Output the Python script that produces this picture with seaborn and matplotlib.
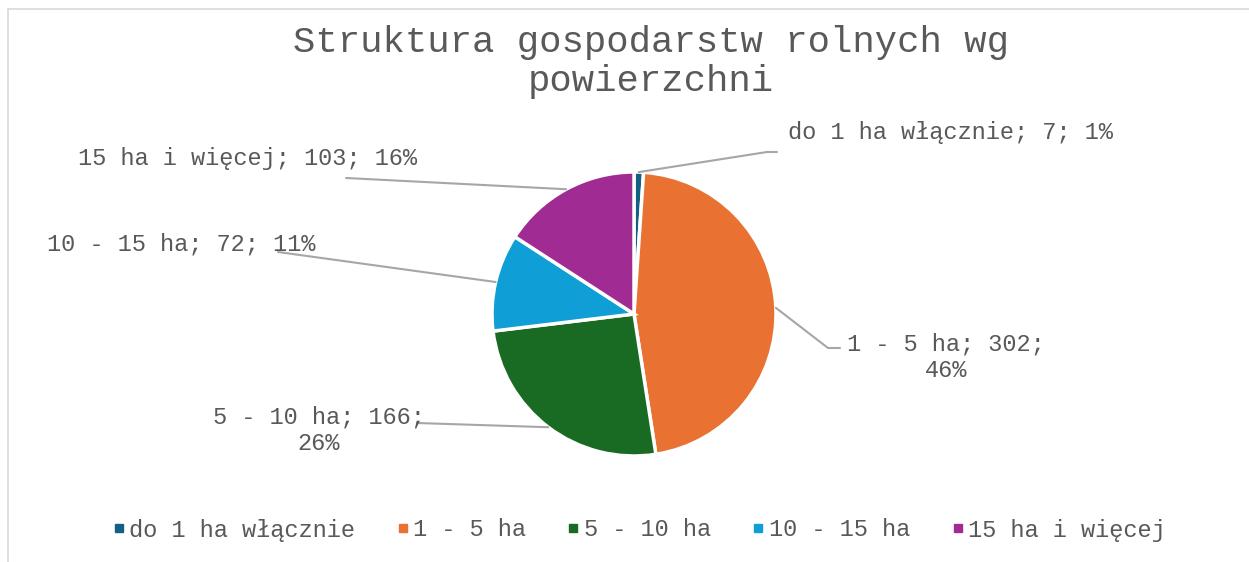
import numpy as np
import matplotlib
matplotlib.use("Agg")
import matplotlib.pyplot as plt
from matplotlib.lines import Line2D
import seaborn as sns

# data
categories = ["do 1 ha włącznie", "1 - 5 ha", "5 - 10 ha", "10 - 15 ha", "15 ha i więcej"]
farms = [7, 302, 166, 72, 103]
colors = ["#156082", "#E97132", "#196B24", "#0F9ED5", "#A02B93"]
title = "Struktura gospodarstw rolnych wg\npowierzchni"

sns.set_theme(style="white")
plt.rcParams["font.family"] = ["Liberation Mono", "DejaVu Sans Mono"]
txt_col = "#595959"

W, H = 1249, 562
fig = plt.figure(figsize=(W / 100, H / 100), dpi=100)

# pie centre / radius in pixels (layout)
cx, cy, r = 634, 314, 142
box = 200
ax = fig.add_axes([(cx - box) / W, (H - cy - box) / H, 2 * box / W, 2 * box / H])
wedges, _ = ax.pie(farms, colors=sns.color_palette(colors), startangle=90, counterclock=False,
                   wedgeprops=dict(edgecolor="white", linewidth=2.5))
lim = box / r
ax.set_xlim(-lim, lim)
ax.set_ylim(-lim, lim)
ax.axis("off")

def px(x, y):
    return x / W, 1 - y / H

# label layout: text anchor (pixels), alignment, line break, leader points
label_layout = [
    dict(pos=(788, 132), ha="left", wrap=False, pts=[(767, 152), (777, 152)]),
    dict(pos=(946, 357), ha="center", wrap=True, pts=[(828, 348), (840, 348)]),
    dict(pos=(319, 430), ha="center", wrap=True, pts=[(417, 423)]),
    dict(pos=(47, 244), ha="left", wrap=False, pts=[(278, 252)]),
    dict(pos=(78, 158), ha="left", wrap=False, pts=[(346, 178)]),
]

total = sum(farms)
to_fig = fig.transFigure.inverted()
for w, cat, val, lay in zip(wedges, categories, farms, label_layout):
    pct = round(val / total * 100)
    sep = "\n" if lay["wrap"] else " "
    lab = f"{cat}; {val};{sep}{pct}%"
    x, y = px(*lay["pos"])
    fig.text(x, y, lab, ha=lay["ha"], va="center", fontsize=17, color=txt_col,
             multialignment="center", linespacing=1.2)
    ang = np.deg2rad((w.theta1 + w.theta2) / 2)
    start = to_fig.transform(ax.transData.transform((np.cos(ang), np.sin(ang))))
    xs = [start[0]] + [px(*p)[0] for p in lay["pts"]]
    ys = [start[1]] + [px(*p)[1] for p in lay["pts"]]
    fig.add_artist(Line2D(xs, ys, transform=fig.transFigure, color="#A6A6A6", lw=1.5))

fig.text(*px(651, 62), title, ha="center", va="center", fontsize=26.8, color=txt_col,
         linespacing=1.15)

handles = [Line2D([], [], marker="s", linestyle="", markersize=5.5, color=c) for c in colors]
fig.legend(handles, categories, loc="center", bbox_to_anchor=px(640, 530), ncol=5,
           frameon=False, fontsize=17, labelcolor=txt_col, handlelength=0.4,
           handletextpad=0.25, columnspacing=1.8)

# chart area border (top and left visible)
fig.add_artist(Line2D([px(8, 0)[0], 1], [px(0, 9)[1]] * 2, transform=fig.transFigure,
                      color="#D9D9D9", lw=1.2))
fig.add_artist(Line2D([px(8, 0)[0]] * 2, [px(0, 9)[1], 0], transform=fig.transFigure,
                      color="#D9D9D9", lw=1.2))

fig.savefig("out.png", dpi=100)
